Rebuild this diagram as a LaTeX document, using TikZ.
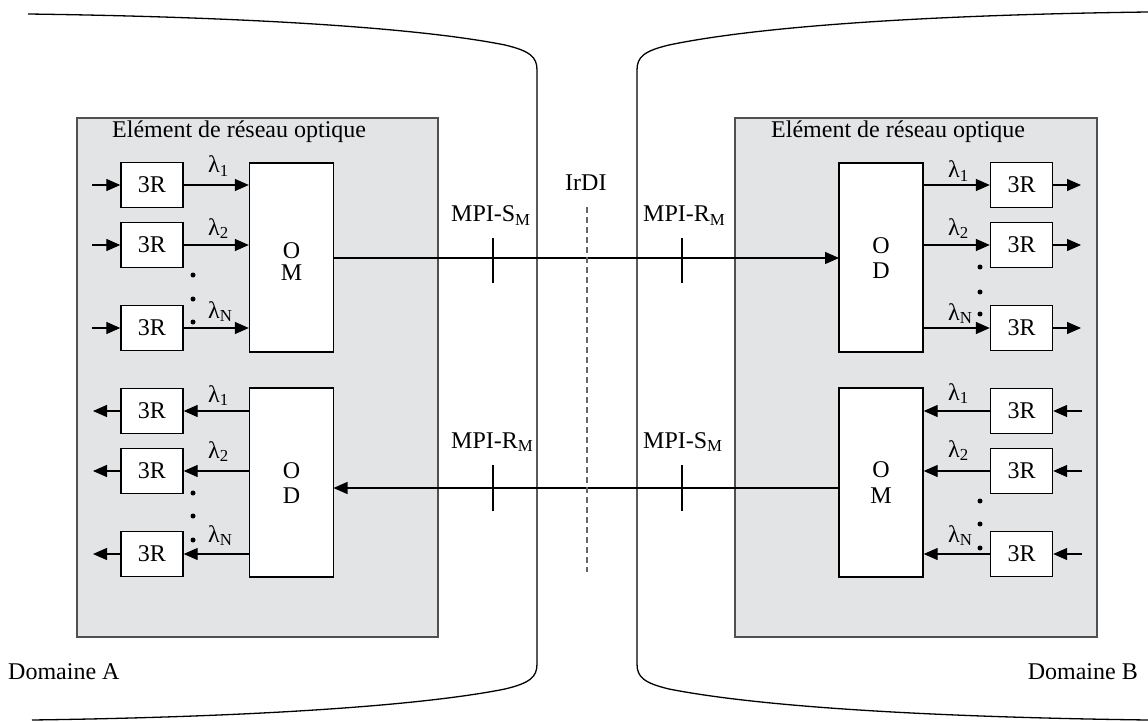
\documentclass[tikz,border=0pt]{standalone}
\usepackage{fontspec}
\setmainfont{Liberation Serif}
\usetikzlibrary{arrows.meta}
\definecolor{panelgrey}{HTML}{E3E4E6}
\definecolor{panelline}{HTML}{505050}
\begin{document}
\begin{tikzpicture}[x=1pt,y=-1pt,
  txt/.style={font=\fontsize{24}{28}\selectfont, inner sep=0pt},
  rbox/.style={draw, fill=white, line width=1.4pt, minimum width=62pt, minimum height=45pt, inner sep=0pt, font=\fontsize{24}{28}\selectfont},
  mbox/.style={draw, fill=white, line width=1.4pt, minimum width=84pt, minimum height=189pt, inner sep=0pt},
  arr/.style={line width=1.3pt, -{Triangle[length=14pt,width=12pt]}},
  dotn/.style={circle, fill, inner sep=0pt, minimum size=5pt},
  panel/.style={draw=panelline, fill=panelgrey, line width=1.6pt},
  dom/.style={line width=1.3pt},
  tickl/.style={line width=1.2pt},
  lam/.style={font=\fontsize{24}{28}\selectfont, inner sep=0pt, anchor=base west}
]
\useasboundingbox (0,0) rectangle (1148,722);

% domain outlines
\draw[dom] (28,14) .. controls (250,17) and (420,28) .. (505,45)
  .. controls (530,51) and (537,57) .. (537,70) -- (537,664)
  .. controls (537,677) and (530,683) .. (505,689)
  .. controls (420,706) and (250,717) .. (32,720);
\draw[dom] (1148,12) .. controls (920,15) and (755,27) .. (669,45)
  .. controls (644,51) and (637,57) .. (637,70) -- (637,664)
  .. controls (637,677) and (644,683) .. (669,689)
  .. controls (755,706) and (920,717) .. (1148,720);

\node[txt, anchor=base west] (domA) at (8,679) {Domaine A};
\node[txt, anchor=base east] (domB) at (1138,679) {Domaine B};

% panels
\draw[panel] (77,118) rectangle (438,637);
\draw[panel] (735,118) rectangle (1097,637);
\node[txt, anchor=base west] (neA) at (112,138) {Elément de réseau optique};
\node[txt, anchor=base west] (neB) at (771,138) {Elément de réseau optique};

% ---------- left upper: 3R -> OM
\node[mbox] (omA) at (291.5,257.5) {};
\node[txt, anchor=base] (omA1) at (291.5,258) {O};
\node[txt, anchor=base] (omA2) at (291.5,280) {M};
\node[rbox] (ra1) at (152,185) {3R};
\node[rbox] (ra2) at (152,245) {3R};
\node[rbox] (ra3) at (152,328) {3R};
\coordinate (ia1) at (92,185);
\coordinate (ia2) at (92,245);
\coordinate (ia3) at (92,328);
\draw[arr] (ia1) -- (ra1.west);
\draw[arr] (ia2) -- (ra2.west);
\draw[arr] (ia3) -- (ra3.west);
\draw[arr] (ra1.east) -- (ra1.east -| omA.west);
\draw[arr] (ra2.east) -- (ra2.east -| omA.west);
\draw[arr] (ra3.east) -- (ra3.east -| omA.west);
\node[lam] (la1) at (208,173) {λ\textsubscript{1}};
\node[lam] (la2) at (208,235) {λ\textsubscript{2}};
\node[lam] (la3) at (208,318) {λ\textsubscript{N}};
\node[dotn] (da1) at (193,275) {};
\node[dotn] (da2) at (193,299) {};
\node[dotn] (da3) at (193,322) {};

% ---------- left lower: OD -> 3R
\node[mbox] (odA) at (291.5,482.5) {};
\node[txt, anchor=base] (odA1) at (291.5,478) {O};
\node[txt, anchor=base] (odA2) at (291.5,503) {D};
\node[rbox] (rb1) at (152,411) {3R};
\node[rbox] (rb2) at (152,471) {3R};
\node[rbox] (rb3) at (152,554) {3R};
\coordinate (ob1) at (93,411);
\coordinate (ob2) at (93,471);
\coordinate (ob3) at (93,554);
\draw[arr] (rb1.west) -- (ob1);
\draw[arr] (rb2.west) -- (ob2);
\draw[arr] (rb3.west) -- (ob3);
\draw[arr] (rb1.east -| odA.west) -- (rb1.east);
\draw[arr] (rb2.east -| odA.west) -- (rb2.east);
\draw[arr] (rb3.east -| odA.west) -- (rb3.east);
\node[lam] (lb1) at (208,402) {λ\textsubscript{1}};
\node[lam] (lb2) at (208,458) {λ\textsubscript{2}};
\node[lam] (lb3) at (208,542) {λ\textsubscript{N}};
\node[dotn] (db1) at (193,493) {};
\node[dotn] (db2) at (193,516) {};
\node[dotn] (db3) at (193,540) {};

% ---------- right upper: OD -> 3R
\node[mbox] (odB) at (881,257.5) {};
\node[txt, anchor=base] (odB1) at (881,253) {O};
\node[txt, anchor=base] (odB2) at (881,278) {D};
\node[rbox] (rc1) at (1021.5,185) {3R};
\node[rbox] (rc2) at (1021.5,245) {3R};
\node[rbox] (rc3) at (1021.5,328) {3R};
\coordinate (oc1) at (1081,185);
\coordinate (oc2) at (1081,245);
\coordinate (oc3) at (1081,328);
\draw[arr] (rc1.east) -- (oc1);
\draw[arr] (rc2.east) -- (oc2);
\draw[arr] (rc3.east) -- (oc3);
\draw[arr] (rc1.west -| odB.east) -- (rc1.west);
\draw[arr] (rc2.west -| odB.east) -- (rc2.west);
\draw[arr] (rc3.west -| odB.east) -- (rc3.west);
\node[lam] (lc1) at (948,178) {λ\textsubscript{1}};
\node[lam] (lc2) at (948,235) {λ\textsubscript{2}};
\node[lam] (lc3) at (948,320) {λ\textsubscript{N}};
\node[dotn] (dc1) at (980,267) {};
\node[dotn] (dc2) at (980,292) {};
\node[dotn] (dc3) at (980,314) {};

% ---------- right lower: 3R -> OM
\node[mbox] (omB) at (881,482.5) {};
\node[txt, anchor=base] (omB1) at (881,477) {O};
\node[txt, anchor=base] (omB2) at (881,503) {M};
\node[rbox] (rd1) at (1021.5,411) {3R};
\node[rbox] (rd2) at (1021.5,471) {3R};
\node[rbox] (rd3) at (1021.5,554) {3R};
\coordinate (id1) at (1082,411);
\coordinate (id2) at (1082,471);
\coordinate (id3) at (1082,554);
\draw[arr] (id1) -- (rd1.east);
\draw[arr] (id2) -- (rd2.east);
\draw[arr] (id3) -- (rd3.east);
\draw[arr] (rd1.west) -- (rd1.west -| omB.east);
\draw[arr] (rd2.west) -- (rd2.west -| omB.east);
\draw[arr] (rd3.west) -- (rd3.west -| omB.east);
\node[lam] (ld1) at (948,400) {λ\textsubscript{1}};
\node[lam] (ld2) at (948,457) {λ\textsubscript{2}};
\node[lam] (ld3) at (948,542) {λ\textsubscript{N}};
\node[dotn] (dd1) at (980,501) {};
\node[dotn] (dd2) at (980,524) {};
\node[dotn] (dd3) at (980,548) {};

% ---------- inter-domain links
\coordinate (upL) at (333.5,258);
\coordinate (upR) at (839,258);
\draw[arr] (upL) -- (upR);
\coordinate (loR) at (839,488);
\coordinate (loL) at (333.5,488);
\draw[arr] (loR) -- (loL);

% reference points
\draw[tickl] (493,238) -- (493,283);
\draw[tickl] (682,238) -- (682,283);
\draw[tickl] (493,465) -- (493,511);
\draw[tickl] (682,465) -- (682,511);
\node[txt, anchor=base west] (mpi1) at (451,222) {MPI-S\textsubscript{M}};
\node[txt, anchor=base west] (mpi2) at (643,222) {MPI-R\textsubscript{M}};
\node[txt, anchor=base west] (mpi3) at (451,448) {MPI-R\textsubscript{M}};
\node[txt, anchor=base west] (mpi4) at (643,448) {MPI-S\textsubscript{M}};

% IrDI
\node[txt, anchor=base west] (irdi) at (565,190) {IrDI};
\coordinate (irT) at (587,207);
\coordinate (irB) at (587,572);
\draw[line width=1.2pt, draw=black!60, dash pattern=on 6pt off 4pt] (irT) -- (irB);
\end{tikzpicture}
\end{document}
